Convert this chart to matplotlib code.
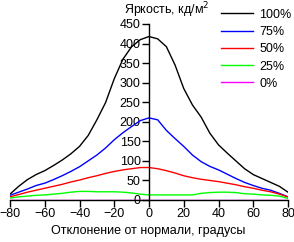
import matplotlib
matplotlib.use("Agg")
import matplotlib.pyplot as plt
import numpy as np

# угол отклонения, градусы
angles = [-80, -75, -70, -65, -60, -55, -50, -45, -40, -35, -30, -25, -20, -15, -10, -5,
          0, 5, 10, 15, 20, 25, 30, 35, 40, 45, 50, 55, 60, 65, 70, 75, 80]

# яркость, кд/м2
bright_100 = [15, 35, 52, 65, 75, 88, 102, 118, 137, 165, 205, 249, 310, 360, 392, 410,
              418, 412, 392, 345, 285, 243, 212, 171, 141, 120, 100, 80, 65, 55, 45, 35, 20]
bright_75 = [12, 20, 28, 37, 43, 52, 62, 73, 85, 100, 115, 133, 154, 172, 188, 203,
             210, 205, 178, 157, 137, 115, 98, 86, 77, 66, 55, 45, 37, 30, 25, 17, 8]
bright_50 = [8, 14, 20, 25, 30, 35, 40, 46, 51, 57, 62, 68, 73, 77, 80, 83,
             83, 80, 75, 69, 62, 57, 53, 50, 47, 43, 39, 34, 30, 25, 21, 15, 8]
bright_25 = [5, 8, 10, 12, 13, 15, 17, 20, 22, 22, 21, 21, 21, 20, 18, 15,
             13, 13, 13, 13, 13, 13, 17, 19, 20, 20, 19, 16, 15, 13, 12, 10, 4]
bright_0 = [0] * len(angles)

series = [bright_100, bright_75, bright_50, bright_25, bright_0]
labels = ["100%", "75%", "50%", "25%", "0%"]
colors = ["black", "#0000ff", "#ff0000", "#00ff00", "#ff00ff"]

plt.rcParams['font.family'] = ['Liberation Sans', 'DejaVu Sans']

fig = plt.figure(figsize=(2.94, 2.42), dpi=100)
ax = fig.add_axes([10 / 294, 42 / 242, 278 / 294, 176 / 242])

for y, lab, col in zip(series, labels, colors):
    ax.plot(angles, y, color=col, linewidth=1.0, label=lab)

ax.set_xlim(-80, 80)
ax.set_ylim(0, 450)
ax.set_xticks(np.arange(-80, 81, 20))
ax.set_yticks(np.arange(0, 451, 50))

ax.spines['left'].set_position(('data', 0))
ax.spines['top'].set_visible(False)
ax.spines['right'].set_visible(False)
for s in ['left', 'bottom']:
    ax.spines[s].set_linewidth(1.0)
ax.tick_params(direction='out', length=5, width=1.0, labelsize=9, pad=1)
ax.set_facecolor('none')

fig.text(124 / 294, 1 - 10 / 242, "Яркость, кд/м$^2$", fontsize=9,
         ha='left', va='center')
fig.text(148 / 294, 5 / 242, "Отклонение от нормали, градусы", fontsize=9,
         ha='center', va='bottom')

ax.legend(loc='upper left', bbox_to_anchor=(212 / 294, 1.0), bbox_transform=fig.transFigure,
          frameon=False, fontsize=9, handlelength=2.6, handletextpad=0.5,
          labelspacing=0.42, borderaxespad=0.3)

fig.savefig("out.png", dpi=100)
